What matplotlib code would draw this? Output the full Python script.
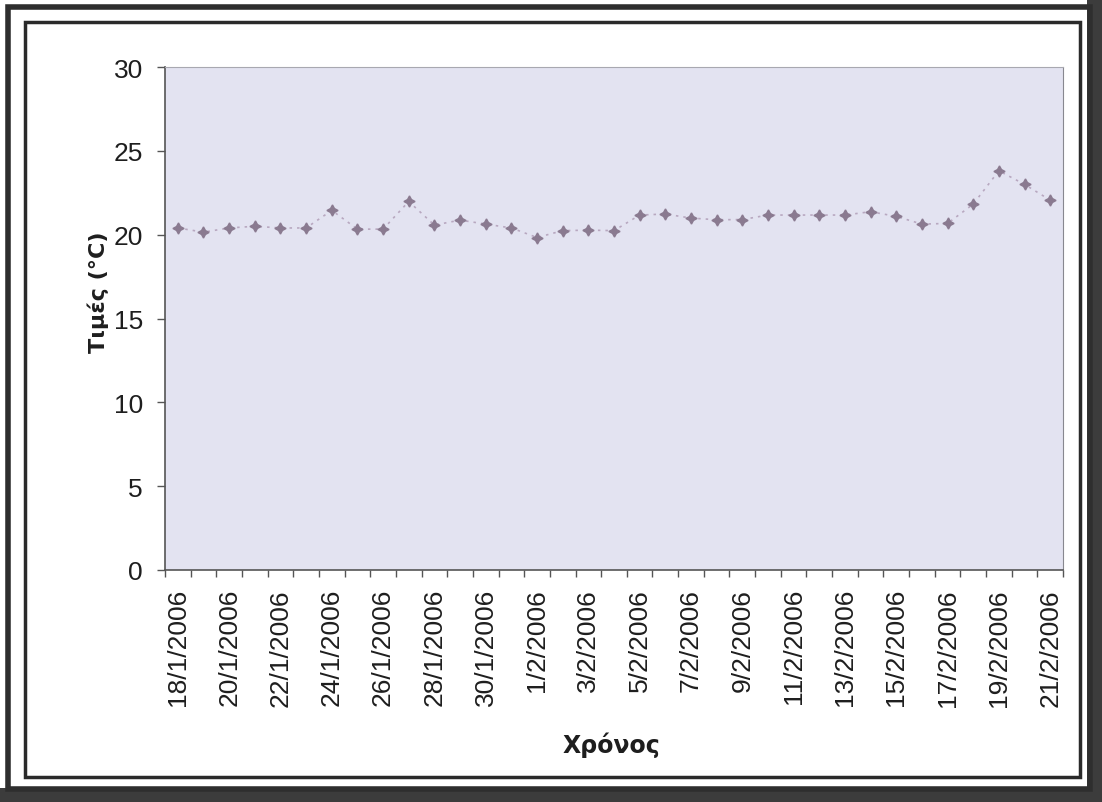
# -*- coding: utf-8 -*-

import matplotlib.pyplot as plt
from matplotlib.patches import Rectangle
import numpy as np

plt.rcParams['font.family'] = ['Liberation Sans', 'DejaVu Sans']

# daily values 18/1/2006 - 21/2/2006
days = ['18/1', '19/1', '20/1', '21/1', '22/1', '23/1', '24/1', '25/1', '26/1',
        '27/1', '28/1', '29/1', '30/1', '31/1', '1/2', '2/2', '3/2', '4/2',
        '5/2', '6/2', '7/2', '8/2', '9/2', '10/2', '11/2', '12/2', '13/2',
        '14/2', '15/2', '16/2', '17/2', '18/2', '19/2', '20/2', '21/2']
dates = [d + '/2006' for d in days]
temps = [20.4, 20.15, 20.4, 20.5, 20.4, 20.4, 21.45, 20.33, 20.33, 21.98,
         20.57, 20.87, 20.63, 20.4, 19.83, 20.24, 20.27, 20.24, 21.17, 21.23,
         20.99, 20.89, 20.9, 21.17, 21.17, 21.17, 21.17, 21.37, 21.09, 20.63,
         20.67, 21.82, 23.81, 23.0, 22.06]

W, H = 1102, 803
fig = plt.figure(figsize=(W / 100, H / 100), dpi=100, facecolor='white')

# scanned page frame
def px_rect(x0, y0, x1, y1, **kw):
    return Rectangle((x0 / W, 1 - y1 / H), (x1 - x0) / W, (y1 - y0) / H,
                     transform=fig.transFigure, **kw)

fig.patches.append(px_rect(0, 789, W, H, facecolor='#3c3c3c', edgecolor='none'))
fig.patches.append(px_rect(1087, 0, W, H, facecolor='#3c3c3c', edgecolor='none'))
fig.patches.append(px_rect(8, 8, 1090, 790, facecolor='none', edgecolor='#2e2e2e', linewidth=4))
fig.patches.append(px_rect(25, 23, 1080, 778, facecolor='none', edgecolor='#2a2a2a', linewidth=2.5))

ax = fig.add_axes([165 / W, 1 - 571 / H, 898 / W, 503 / H])
ax.set_facecolor('#e3e3f1')

x = np.arange(len(temps))
ax.plot(x, temps, linestyle=(0, (1.5, 3)), color='#b8a8c0', linewidth=1.2,
        marker=(4, 1, 0), markersize=8, markerfacecolor='#8a7a90',
        markeredgecolor='#8a7a90')

ax.set_xlim(-0.5, len(temps) - 0.5)
ax.set_ylim(0, 30)
ax.set_yticks(range(0, 31, 5))
ax.set_xticks(x[::2])
ax.set_xticklabels(dates[::2], rotation=90)
ax.set_xticks(np.arange(-0.5, len(temps), 1), minor=True)
ax.tick_params(axis='x', which='major', length=0, pad=13, labelsize=19, labelcolor='#1e1e1e')
ax.tick_params(axis='x', which='minor', length=5, width=1, color='#555555')
ax.tick_params(axis='y', length=6, width=1, color='#555555', pad=10, labelsize=19, labelcolor='#1e1e1e')

for s in ['left', 'bottom']:
    ax.spines[s].set_color('#555555')
    ax.spines[s].set_linewidth(1.2)
ax.spines['top'].set_color('#a8a8b0')
ax.spines['right'].set_color('#888890')

fig.text(611 / W, 1 - 745 / H, 'Χρόνος', ha='center', va='center',
         fontsize=17, fontweight='bold', color='#1e1e1e', family='DejaVu Sans')
fig.text(98 / W, 1 - 292 / H, 'Τιμές (°C)', ha='center', va='center',
         rotation=90, fontsize=16, fontweight='bold', color='#1e1e1e',
         family='DejaVu Sans')

fig.savefig('out.png', dpi=100, facecolor=fig.get_facecolor())
